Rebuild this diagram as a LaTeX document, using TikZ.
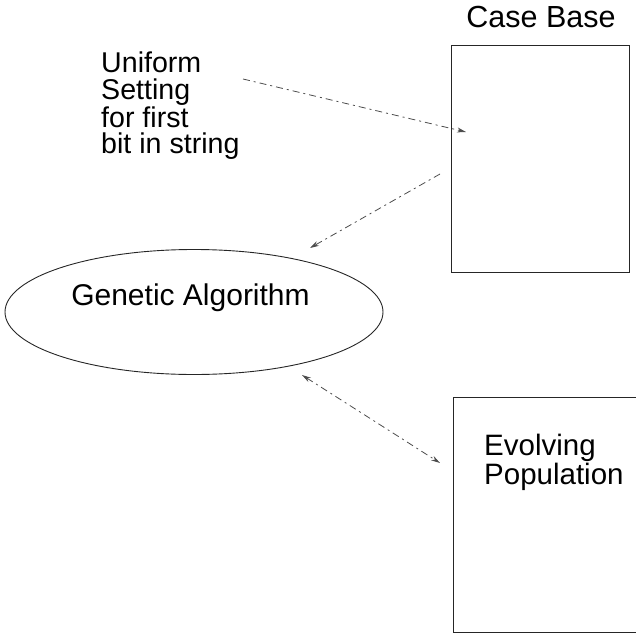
\documentclass[tikz,border=0pt]{standalone}
\usepackage{fontspec}
\setmainfont{Liberation Sans}
\usetikzlibrary{shapes.geometric,arrows.meta}
\begin{document}
\begin{tikzpicture}[x=1pt,y=-1pt,
  lbl/.style={inner sep=0pt,align=left},
  shp/.style={draw=black!85,line width=0.9pt},
  conn/.style={draw=black!70,line width=0.8pt,dash pattern=on 7pt off 4pt on 2pt off 4pt},
  tip/.style={-{Stealth[length=9pt,width=5pt]}}]
\useasboundingbox (0,0) rectangle (635,642);
% Case Base box
\node[shp,rectangle,minimum width=178pt,minimum height=227pt,inner sep=0pt,anchor=north west] (cb) at (451,45) {};
\node[lbl,anchor=base,font=\fontsize{30.5}{30}\selectfont] (cbt) at (541,28) {Case Base};
% Evolving population box (runs past right edge)
\node[shp,rectangle,minimum width=190pt,minimum height=235pt,inner sep=0pt,anchor=north west] (ep) at (453,397) {};
\node[lbl,anchor=north west,font=\fontsize{29.5}{26}\selectfont] (ept) at (484,434) {Evolving\\Population};
% Genetic algorithm ellipse
\node[shp,ellipse,minimum width=378pt,minimum height=125pt,inner sep=0pt] (ga) at (194,312) {};
\node[lbl,anchor=base,font=\fontsize{30}{30}\selectfont] (gat) at (190.5,305) {Genetic Algorithm};
% Uniform setting text
\node[lbl,anchor=north west,font=\fontsize{28.6}{26.5}\selectfont] (us) at (101,52) {Uniform\\Setting\\for first\\bit in string};
% connectors
\coordinate (a1s) at (243,79);
\coordinate (a1e) at (466,132);
\draw[conn,tip] (a1s) -- (a1e);
\coordinate (a2s) at (440,174);
\coordinate (a2e) at (310,248);
\draw[conn,tip] (a2s) -- (a2e);
\coordinate (a3s) at (302,375);
\coordinate (a3e) at (440,463);
\draw[conn,{Stealth[length=9pt,width=5pt]}-{Stealth[length=9pt,width=5pt]}] (a3s) -- (a3e);
\end{tikzpicture}
\end{document}
